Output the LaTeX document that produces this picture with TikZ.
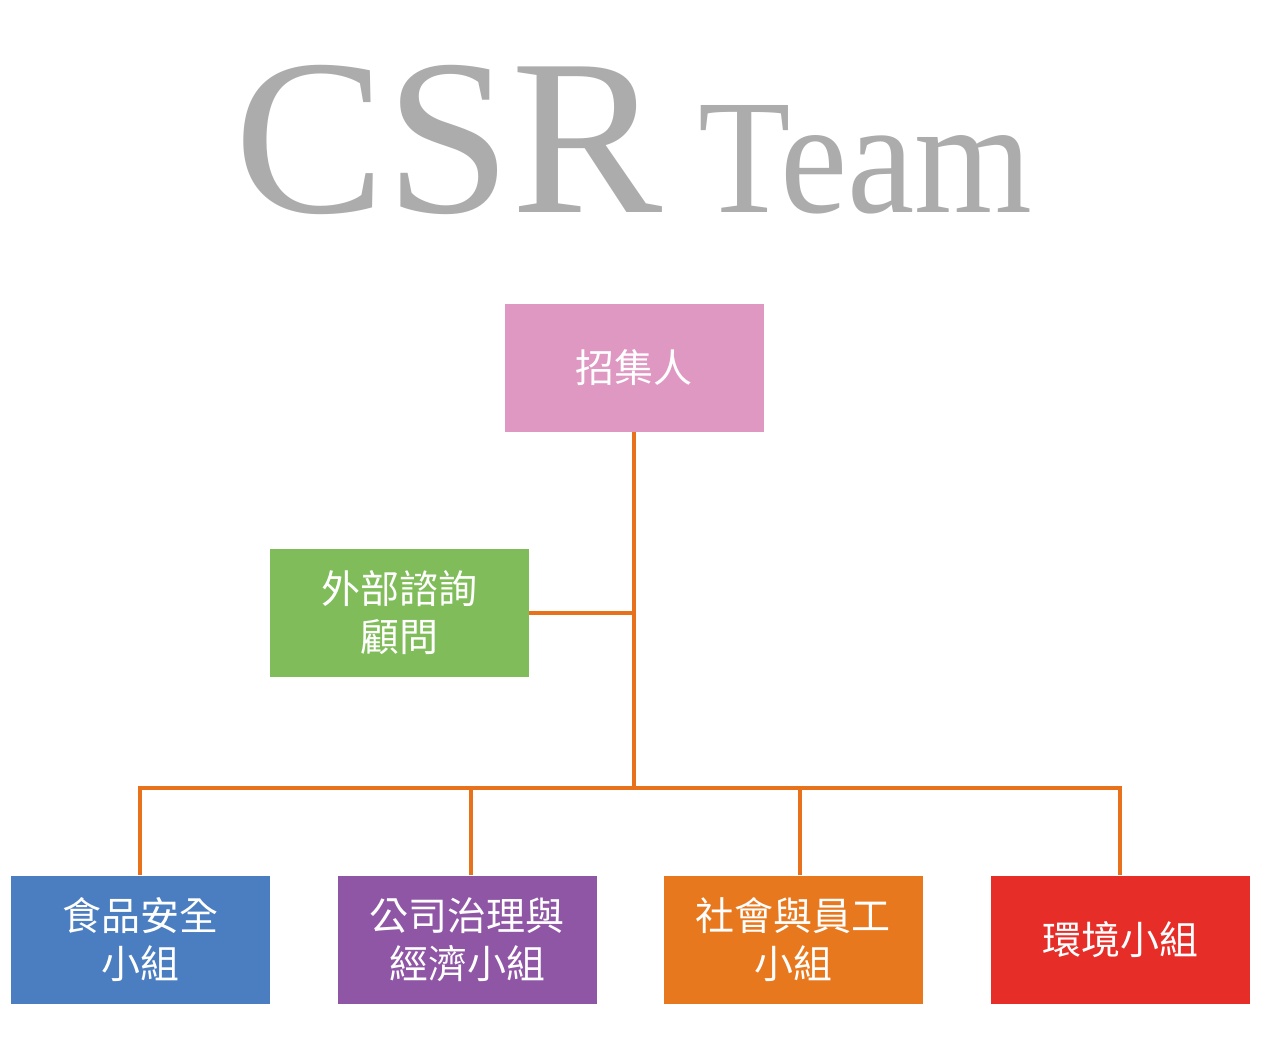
\documentclass[tikz,border=0pt]{standalone}
\usepackage{fontspec}
\setmainfont{Liberation Serif}
\newfontfamily\cjk{Noto Sans CJK TC}
\definecolor{titlegray}{RGB}{172,172,172}
\definecolor{cpink}{RGB}{222,152,194}
\definecolor{cgreen}{RGB}{128,189,90}
\definecolor{cblue}{RGB}{74,126,192}
\definecolor{cpurple}{RGB}{143,86,166}
\definecolor{corange}{RGB}{232,120,30}
\definecolor{cred}{RGB}{230,45,40}
\definecolor{cline}{RGB}{232,114,28}
\begin{document}
\begin{tikzpicture}[x=1pt,y=-1pt,
  box/.style={rectangle, minimum width=259pt, minimum height=128pt, inner sep=0pt,
    text=white, align=center, font=\cjk\fontsize{39}{48}\selectfont},
  conn/.style={draw=cline, line width=4pt},
  titletext/.style={inner sep=0pt, anchor=base west, text=titlegray}]
\useasboundingbox[fill=white] (0,0) rectangle (1276,1045);
% title
\node[titletext] (csr) at (234,212) {\resizebox{428pt}{147pt}{CSR}};
\node[titletext] (team) at (698,212) {\resizebox{334pt}{107pt}{Team}};
% boxes
\node[box, fill=cpink] (boss) at (634,368) {招集人};
\node[box, fill=cgreen] (adv) at (399,612.5) {外部諮詢\\顧問};
\node[box, fill=cblue] (g1) at (140,939.5) {食品安全\\小組};
\node[box, fill=cpurple] (g2) at (467,939.5) {公司治理與\\經濟小組};
\node[box, fill=corange] (g3) at (793,939.5) {社會與員工\\小組};
\node[box, fill=cred] (g4) at (1120,939.5) {環境小組};
\coordinate (bus) at (634,788);
% connectors
\draw[conn] (boss.south) -- (boss.south |- bus);
\draw[conn] (adv.east) -- (adv.east -| boss.south);
\draw[conn] (g1.north) |- (g4.north |- bus) -- (g4.north);
\draw[conn] ([xshift=4pt]g2.north) -- ([xshift=4pt]g2.north |- bus);
\draw[conn] ([xshift=7pt]g3.north) -- ([xshift=7pt]g3.north |- bus);
\end{tikzpicture}
\end{document}
